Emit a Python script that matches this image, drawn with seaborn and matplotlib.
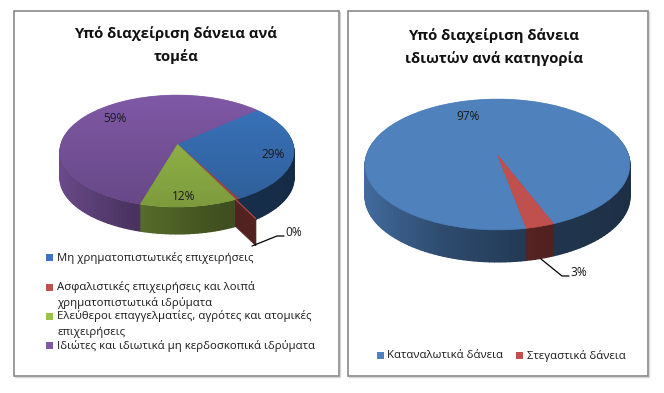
import numpy as np
import matplotlib
matplotlib.use("Agg")
import matplotlib.pyplot as plt
from matplotlib.path import Path
from matplotlib.patches import Rectangle
from matplotlib.transforms import Transform, Affine2D
import seaborn as sns

sector_values = [29, 0.4, 12, 59]
sector_labels = ["29%", "0%", "12%", "59%"]
sector_names = ["Μη χρηματοπιστωτικές επιχειρήσεις",
                "Ασφαλιστικές επιχειρήσεις και λοιπά\nχρηματοπιστωτικά ιδρύματα",
                "Ελεύθεροι επαγγελματίες, αγρότες και ατομικές\nεπιχειρήσεις",
                "Ιδιώτες και ιδιωτικά μη κερδοσκοπικά ιδρύματα"]
sector_colors = sns.color_palette(["#3a75bd", "#c0504d", "#9bc04c", "#8059a6"])
category_values = [97, 3]
category_labels = ["97%", "3%"]
category_names = ["Καταναλωτικά δάνεια", "Στεγαστικά δάνεια"]
category_colors = sns.color_palette(["#4f81bd", "#c0504d"])

sns.set_theme(style="white")
plt.rcParams["font.family"] = ["Open Sans", "DejaVu Sans"]

W, H = 664, 393
fig = plt.figure(figsize=(W / 100, H / 100), dpi=100, facecolor="white")
ax = fig.add_axes([0, 0, 1, 1])


class Tilt(Transform):
    """Projects the unit-circle pie onto a tilted disc, in pixel-like axes units."""
    input_dims = output_dims = 2
    is_affine = False

    def __init__(self, k, a, b, cx, cy):
        super().__init__()
        self.k, self.a, self.b, self.cx, self.cy = k, a, b, cx, cy

    def transform_non_affine(self, xy):
        xy = np.asarray(xy, dtype=float)
        d = 1 + self.k * xy[:, 1]
        return np.column_stack([self.cx + self.a * xy[:, 0] / d,
                                self.cy - self.b * xy[:, 1] / d])


def shade(x):
    return np.interp(x, [-1, -.35, .3, 1], [.85, .58, .42, .36])


def pie3d(values, colors, start, tilt, depth):
    total = sum(values)
    # side wall: stacked pies, each slice cut in small steps lit by position
    parts, part_cols = [], []
    angle = start
    for v, c in zip(values, colors):
        n = max(1, int(np.ceil(v / total * 360 / 2)))
        for _ in range(n):
            step = v / n
            mid = angle - step / total * 180
            s = shade(np.cos(np.radians(mid)))
            parts.append(step)
            part_cols.append(tuple(np.array(c) * s))
            angle -= step / total * 360
    for d in np.arange(depth, 0, -1.0):
        tf = tilt + Affine2D().translate(0, d) + ax.transData
        wedges, _ = ax.pie(parts, colors=part_cols, startangle=start,
                           counterclock=False, wedgeprops=dict(linewidth=1.0))
        for w in wedges:
            w.set_edgecolor(w.get_facecolor())
            w.set_transform(tf)
    # top face
    wedges, _ = ax.pie(values, colors=colors, startangle=start, counterclock=False,
                       wedgeprops=dict(linewidth=0.5))
    for w in wedges:
        w.set_edgecolor(w.get_facecolor())
        w.set_transform(tilt + ax.transData)


def cut_face(values, index, color, start, tilt, depth, reach):
    total = sum(values)
    ang = np.radians(start - sum(values[:index + 1]) / total * 360)
    ends = np.array([[np.cos(ang), np.sin(ang)],
                     [reach * np.cos(ang), reach * np.sin(ang)]])
    p = tilt.transform(ends)
    ax.fill([p[0, 0], p[1, 0], p[1, 0], p[0, 0]],
            [p[0, 1], p[1, 1], p[1, 1] + depth, p[0, 1] + depth],
            color=np.array(color) * .42, lw=0.5, zorder=1.5)
    ax.plot(p[:, 0], p[:, 1], color=color, lw=0.7, zorder=1.5)


for box in [(14, 11, 325, 364.5), (347.5, 11, 300.5, 364.5)]:
    ax.add_patch(Rectangle((box[0] + 1, box[1] + 1), box[2], box[3], fill=False,
                           ec="#d6d6d6", lw=1, zorder=0.5))
    ax.add_patch(Rectangle(box[:2], box[2], box[3], fc="white", ec="#8a8a8a",
                           lw=1.2, zorder=0.6))

# left chart
tilt_l = Tilt(0.125, 116, 55, 177, 144)
pie3d(sector_values, sector_colors, 42, tilt_l, 27)
grad = np.zeros((128, 1, 4))
grad[:, 0, 3] = np.linspace(0, 0.2, 128)
im = ax.imshow(grad, extent=(55, 300, 210, 92), aspect="auto", zorder=1.2)
im.set_clip_path(Path.unit_circle(), tilt_l + ax.transData)
cut_face(sector_values, 1, sector_colors[1], 42, tilt_l, 27, 1.3)

# right chart
tilt_r = Tilt(0.145, 131, 64, 497.5, 155)
pie3d(category_values, category_colors, -79.1, tilt_r, 32)

TXT = "#1a1a1a"
title_fs = 10.75
for x, y, s in [(176, 34, "Υπό διαχείριση δάνεια ανά"), (176, 57, "τομέα"),
                (494, 36, "Υπό διαχείριση δάνεια"), (494, 59, "ιδιωτών ανά κατηγορία")]:
    ax.text(x, y, s, ha="center", va="center", fontsize=title_fs, fontweight="bold",
            color="#111111", zorder=4)

for (x, y), s in zip([(273, 155), (294, 232), (184, 196), (115, 119)], sector_labels):
    ax.text(x, y, s, ha="center", va="center", fontsize=8.6, color=TXT, zorder=4)
for (x, y), s in zip([(468, 117), (579, 273)], category_labels):
    ax.text(x, y, s, ha="center", va="center", fontsize=8.6, color=TXT, zorder=4)

ax.plot([252, 277, 284], [246, 236, 236], color="black", lw=0.9, zorder=3)
ax.plot([541, 562, 569], [259, 276, 276], color="black", lw=0.9, zorder=3)

legend_fs = 8.17
for y, s, c in zip([257.5, 287, 316.5, 345.5], sector_names, sector_colors):
    ax.add_patch(Rectangle((46, y - 3.5), 7, 7, fc=c, ec="none", zorder=3))
    lines = s.split("\n")
    for i, line in enumerate(lines):
        ax.text(57, y + i * 16, line, ha="left", va="center", fontsize=legend_fs,
                color=TXT, zorder=4)
for xs, xt, s, c in zip([377, 516], [387, 527], category_names, category_colors):
    ax.add_patch(Rectangle((xs, 352), 7, 7, fc=c, ec="none", zorder=3))
    ax.text(xt, 355.5, s, ha="left", va="center", fontsize=legend_fs, color=TXT, zorder=4)

ax.set_aspect("auto")
ax.set_xlim(0, W)
ax.set_ylim(H, 0)
ax.set_axis_off()
fig.savefig("out.png", dpi=100)
